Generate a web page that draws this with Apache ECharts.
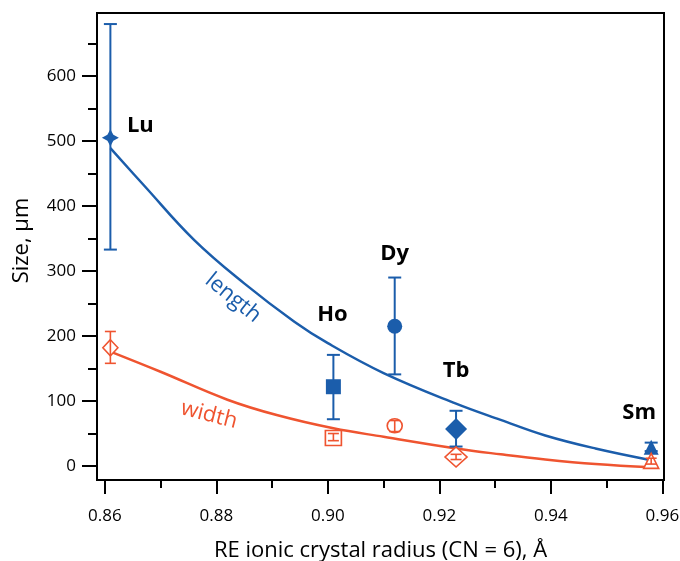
<!DOCTYPE html>
<html>
<head>
<meta charset="utf-8">
<script src="https://cdn.jsdelivr.net/npm/echarts@6/dist/echarts.min.js"></script>
<style>
html,body{margin:0;padding:0;background:#fff;}
#main{width:680px;height:561px;}
</style>
</head>
<body>
<div id="main"></div>
<script>
// ---- data ----
const elements = ['Lu', 'Ho', 'Dy', 'Tb', 'Sm'];
const radius = [0.861, 0.901, 0.912, 0.923, 0.958];
const lengthVals = [505, 122, 215, 57, 29];
const lengthLow = [333, 72, 141, 30, 23];
const lengthHigh = [680, 171, 290, 85, 36];
const widthVals = [182, 43, 62, 14, 8];
const widthLow = [158, 39, 53, 10, 3];
const widthHigh = [207, 50, 70, 18, 12];
const lengthFitX = [0.861, 0.867, 0.876, 0.885, 0.894, 0.900, 0.910, 0.923, 0.931, 0.939, 0.948, 0.958];
const lengthFitY = [489, 432, 348, 281, 222, 189, 143, 96, 71, 47, 27, 9];
const widthFitX = [0.861, 0.870, 0.882, 0.891, 0.901, 0.910, 0.923, 0.931, 0.939, 0.948, 0.958];
const widthFitY = [176, 145, 102, 78, 58, 45, 27, 18, 10, 3, -2];
const xMajorTicks = [0.86, 0.88, 0.90, 0.92, 0.94, 0.96];
const xMinorTicks = [0.87, 0.89, 0.91, 0.93, 0.95];
const yMajorTicks = [0, 100, 200, 300, 400, 500, 600];
const yMinorTicks = [50, 150, 250, 350, 450, 550, 650];

// ---- styles ----
const BLUE = '#1b5dab';
const RED = '#ef5430';
const FONT = 'Open Sans';
const lengthSymbols = ['path://M0,-10 L3.5,-3.5 L10,0 L3.5,3.5 L0,10 L-3.5,3.5 L-10,0 L-3.5,-3.5 Z', 'rect', 'circle', 'diamond', 'triangle'];
const lengthSizes = [17, 15, 15, [22, 22], 15];
const widthSymbols = ['diamond', 'rect', 'circle', 'diamond', 'triangle'];
const widthSizes = [[15, 16], [16, 15], [15, 14], [22, 20], [15, 15]];
const labelOffsets = [[30, -12], [-1, -72], [0, -73], [0, -58], [-12, -34]];

const chart = echarts.init(document.getElementById('main'));

function errBar(color, cap, lw) {
  return function (params, api) {
    const x = api.value(0), lo = api.value(1), hi = api.value(2);
    const a = api.coord([x, lo]), b = api.coord([x, hi]);
    const st = { stroke: color, lineWidth: lw };
    return {
      type: 'group',
      children: [
        { type: 'line', shape: { x1: a[0], y1: a[1], x2: b[0], y2: b[1] }, style: st },
        { type: 'line', shape: { x1: a[0] - cap / 2, y1: a[1], x2: a[0] + cap / 2, y2: a[1] }, style: st },
        { type: 'line', shape: { x1: b[0] - cap / 2, y1: b[1], x2: b[0] + cap / 2, y2: b[1] }, style: st }
      ]
    };
  };
}

const xMin = 0.8586, xMax = 0.9603, yMin = -21.5, yMax = 697;
const tickLabelStyle = { color: '#000', fontSize: 17, fontFamily: FONT };

const option = {
  animation: false,
  backgroundColor: '#fff',
  grid: { left: 97, right: 16, top: 13, bottom: 81, containLabel: false, outerBoundsMode: 'none',
    show: true, borderColor: '#000', borderWidth: 2, backgroundColor: 'transparent' },
  xAxis: [
    {
      type: 'value', min: xMin, max: xMax, position: 'bottom', offset: 0,
      name: 'RE ionic crystal radius (CN = 6), Å', nameLocation: 'middle', nameGap: 60,
      nameTextStyle: { color: '#000', fontSize: 22, fontFamily: FONT },
      axisLine: { onZero: false, lineStyle: { color: '#000', width: 2 } },
      axisTick: { inside: false, customValues: xMajorTicks, length: 14, lineStyle: { color: '#000', width: 2 } },
      axisLabel: { customValues: xMajorTicks, margin: 28, formatter: v => v.toFixed(2), ...tickLabelStyle },
      splitLine: { show: false }
    },
    {
      type: 'value', min: xMin, max: xMax, position: 'bottom', offset: 0,
      axisLine: { show: false, onZero: false },
      axisTick: { inside: false, customValues: xMinorTicks, length: 8, lineStyle: { color: '#000', width: 2 } },
      axisLabel: { show: false },
      splitLine: { show: false }
    }
  ],
  yAxis: [
    {
      type: 'value', min: yMin, max: yMax, position: 'left', offset: 0,
      name: 'Size, µm', nameLocation: 'middle', nameGap: 64,
      nameTextStyle: { color: '#000', fontSize: 22, fontFamily: FONT, padding: [0, 0, 0, 12] },
      axisLine: { show: true, onZero: false, lineStyle: { color: '#000', width: 2 } },
      axisTick: { show: true, inside: false, customValues: yMajorTicks, length: 15, lineStyle: { color: '#000', width: 2 } },
      axisLabel: { customValues: yMajorTicks, margin: 21, ...tickLabelStyle },
      splitLine: { show: false }
    },
    {
      type: 'value', min: yMin, max: yMax, position: 'left', offset: 0,
      axisLine: { show: false, onZero: false },
      axisTick: { show: true, inside: false, customValues: yMinorTicks, length: 9, lineStyle: { color: '#000', width: 2 } },
      axisLabel: { show: false },
      splitLine: { show: false }
    }
  ],
  series: [
    {
      type: 'line', name: 'length fit', smooth: 0.4, showSymbol: false, symbol: 'none',
      data: lengthFitX.map((x, i) => [x, lengthFitY[i]]),
      lineStyle: { color: BLUE, width: 2.5 }, z: 2
    },
    {
      type: 'line', name: 'width fit', smooth: 0.4, showSymbol: false, symbol: 'none',
      data: widthFitX.map((x, i) => [x, widthFitY[i]]),
      lineStyle: { color: RED, width: 2.5 }, z: 2
    },
    {
      type: 'custom', name: 'length err', renderItem: errBar(BLUE, 13, 2),
      encode: { x: 0, y: [1, 2] },
      data: radius.map((x, i) => [x, lengthLow[i], lengthHigh[i]]), z: 3
    },
    {
      type: 'scatter', name: 'length',
      data: radius.map((x, i) => ({
        value: [x, lengthVals[i]], name: elements[i],
        symbol: lengthSymbols[i], symbolSize: lengthSizes[i],
        label: { show: true, position: 'inside', offset: labelOffsets[i], formatter: elements[i],
          color: '#000', fontSize: 22, fontWeight: 'bold', fontFamily: FONT }
      })),
      itemStyle: { color: BLUE, opacity: 1 }, z: 4
    },
    {
      type: 'scatter', name: 'width',
      data: radius.map((x, i) => ({
        value: [x, widthVals[i]], symbol: widthSymbols[i], symbolSize: widthSizes[i]
      })),
      itemStyle: { color: '#fff', borderColor: RED, borderWidth: 1.6, opacity: 1 }, z: 4
    },
    {
      type: 'custom', name: 'width err', renderItem: errBar(RED, 11, 1.6),
      encode: { x: 0, y: [1, 2] },
      data: radius.map((x, i) => [x, widthLow[i], widthHigh[i]]), z: 5
    }
  ],
  graphic: [
    { type: 'text', x: 233, y: 298, rotation: -0.68,
      style: { text: 'length', fill: BLUE, fontSize: 22, fontFamily: FONT, align: 'center', verticalAlign: 'middle' } },
    { type: 'text', x: 209, y: 415, rotation: -0.25,
      style: { text: 'width', fill: RED, fontSize: 22, fontFamily: FONT, align: 'center', verticalAlign: 'middle' } }
  ]
};
chart.setOption(option);
</script>
</body>
</html>
